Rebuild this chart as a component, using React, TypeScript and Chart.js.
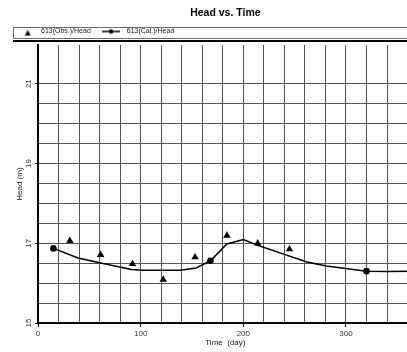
import { useEffect, useRef } from 'react';
import { Chart, registerables } from 'chart.js';

Chart.register(...registerables);

// Observed heads (triangles)
const obsDays = [31, 61, 92, 122, 153, 184, 214, 245];
const obsHeads = [17.06, 16.71, 16.48, 16.09, 16.65, 17.19, 17.0, 16.85];

// Calculated head curve
const calcDays = [15, 39, 60, 91, 102, 138, 154, 168, 184, 200, 214, 240, 262, 281, 320, 340, 365];
const calcHeads = [16.87, 16.63, 16.51, 16.34, 16.32, 16.32, 16.38, 16.56, 16.98, 17.09, 16.95, 16.72, 16.53, 16.43, 16.3, 16.29, 16.3];
// Days on the calculated curve that carry a dot marker
const calcMarkedDays = [15, 168, 320];

// Labelled ticks
const xTickLabels = [0, 100, 200, 300];
const yTickLabels = [15, 17, 19, 21];

const FONT = "'Liberation Sans', Arial, sans-serif";

function makeTriangleIcon() {
  const c = document.createElement('canvas');
  c.width = 14;
  c.height = 12;
  const g = c.getContext('2d')!;
  g.fillStyle = '#000';
  g.beginPath();
  g.moveTo(9.5, 4.5);
  g.lineTo(12.5, 10);
  g.lineTo(6.5, 10);
  g.closePath();
  g.fill();
  return c;
}

function makeLineDotIcon() {
  const c = document.createElement('canvas');
  c.width = 20;
  c.height = 8;
  const g = c.getContext('2d')!;
  g.strokeStyle = '#000';
  g.lineWidth = 1.5;
  g.beginPath();
  g.moveTo(1, 4);
  g.lineTo(19, 4);
  g.stroke();
  g.fillStyle = '#000';
  g.beginPath();
  g.arc(10, 4, 2.2, 0, Math.PI * 2);
  g.fill();
  return c;
}

// Centres the title over the plot and draws the legend frame with the rule beneath it
const framePlugin = {
  id: 'legendFrame',
  afterLayout(chart: any) {
    const t = chart.titleBlock;
    if (t) {
      t.left = chart.chartArea.left;
      t.right = chart.chartArea.right;
    }
  },
  afterDraw(chart: any) {
    const lg = chart.legend;
    if (!lg) return;
    const ctx = chart.ctx;
    const x0 = lg.left + 8;
    const x1 = chart.width + 20;
    ctx.save();
    ctx.strokeStyle = '#6e6e6e';
    ctx.lineWidth = 1;
    ctx.strokeRect(x0 + 0.5, lg.top + 7.5, x1 - x0, 11);
    ctx.fillStyle = '#000';
    ctx.fillRect(x0, lg.top + 20, x1 - x0, 2);
    ctx.restore();
  },
};

const onStep = (step: number) => (scale: any) => {
  scale.ticks = scale.ticks.filter((t: any) => {
    const q = t.value / step;
    return Math.abs(q - Math.round(q)) < 1e-9;
  });
};

export default function App() {
  const ref = useRef<HTMLCanvasElement>(null);

  useEffect(() => {
    if (!ref.current) return;
    const icons = [makeTriangleIcon(), makeLineDotIcon()];
    const chart = new Chart(ref.current, {
      type: 'scatter',
      data: {
        datasets: [
          {
            label: '613(Obs.)/Head',
            data: obsDays.map((d, i) => ({ x: d, y: obsHeads[i] })),
            showLine: false,
            pointStyle: 'triangle',
            pointRadius: 4.3,
            backgroundColor: '#000',
            borderColor: '#000',
            borderWidth: 0,
          },
          {
            label: '613(Cal.)/Head',
            data: calcDays.map((d, i) => ({ x: d, y: calcHeads[i] })),
            showLine: true,
            borderColor: '#000',
            borderWidth: 1.5,
            backgroundColor: '#000',
            pointStyle: 'circle',
            pointBorderWidth: 0,
            pointRadius: (ctx: any) => (ctx.raw && calcMarkedDays.includes(ctx.raw.x) ? 3.3 : 0),
          },
        ],
      },
      options: {
        responsive: false,
        animation: false,
        events: [],
        layout: { padding: { left: 5, right: 0, top: 0, bottom: 0 } },
        plugins: {
          tooltip: { enabled: false },
          title: {
            display: true,
            text: 'Head vs. Time',
            color: '#000',
            font: { family: FONT, size: 10.5, weight: 'bold' },
            padding: { top: 7, bottom: 0.4 },
          },
          legend: {
            display: true,
            position: 'top',
            align: 'start',
            labels: {
              usePointStyle: true,
              pointStyleWidth: 24.5,
              padding: 8,
              color: '#222',
              font: { family: FONT, size: 7 },
              generateLabels: (c: any) => {
                const items = (Chart as any).defaults.plugins.legend.labels.generateLabels(c);
                return items.map((it: any, i: number) => ({ ...it, pointStyle: icons[i] }));
              },
            },
          },
        },
        scales: {
          x: {
            type: 'linear',
            min: 0,
            max: 365,
            afterBuildTicks: onStep(20),
            afterFit: (s: any) => {
              s.height = 29;
            },
            ticks: {
              stepSize: 20,
              autoSkip: false,
              maxRotation: 0,
              padding: 1.5,
              color: '#333',
              font: { family: FONT, size: 8 },
              callback: (v: any) => (xTickLabels.includes(Number(v)) ? String(v) : ''),
            },
            grid: {
              color: '#555',
              lineWidth: 1,
              tickLength: 4,
              tickColor: (ctx: any) => (ctx.tick && xTickLabels.includes(ctx.tick.value) ? '#000' : 'rgba(0,0,0,0)'),
            },
            border: { color: '#000', width: 2 },
            title: {
              display: true,
              text: 'Time  (day)',
              color: '#222',
              font: { family: FONT, size: 8 },
              padding: { top: 0, bottom: 4 },
            },
          },
          y: {
            type: 'linear',
            min: 15,
            max: 21.97,
            afterBuildTicks: onStep(0.5),
            afterFit: (s: any) => {
              s.width = 33;
            },
            ticks: {
              stepSize: 0.5,
              autoSkip: false,
              minRotation: 90,
              maxRotation: 90,
              crossAlign: 'center',
              padding: 2,
              color: '#333',
              font: { family: FONT, size: 8 },
              callback: (v: any) => (yTickLabels.includes(Number(v)) ? String(v) : ''),
            },
            grid: {
              color: '#555',
              lineWidth: 1,
              tickLength: 3,
              tickColor: (ctx: any) => (ctx.tick && yTickLabels.includes(ctx.tick.value) ? '#000' : 'rgba(0,0,0,0)'),
            },
            border: { color: '#000', width: 2 },
            title: {
              display: true,
              text: 'Head (m)',
              color: '#222',
              font: { family: FONT, size: 8 },
              padding: { top: 10, bottom: 0 },
            },
          },
        },
      } as any,
      plugins: [framePlugin],
    });
    return () => chart.destroy();
  }, []);

  return (
    <div style={{ position: 'absolute', left: 0, top: 0, width: 407, height: 352, overflow: 'hidden', background: '#fff' }}>
      <canvas ref={ref} width={417} height={352} style={{ display: 'block' }} />
    </div>
  );
}
